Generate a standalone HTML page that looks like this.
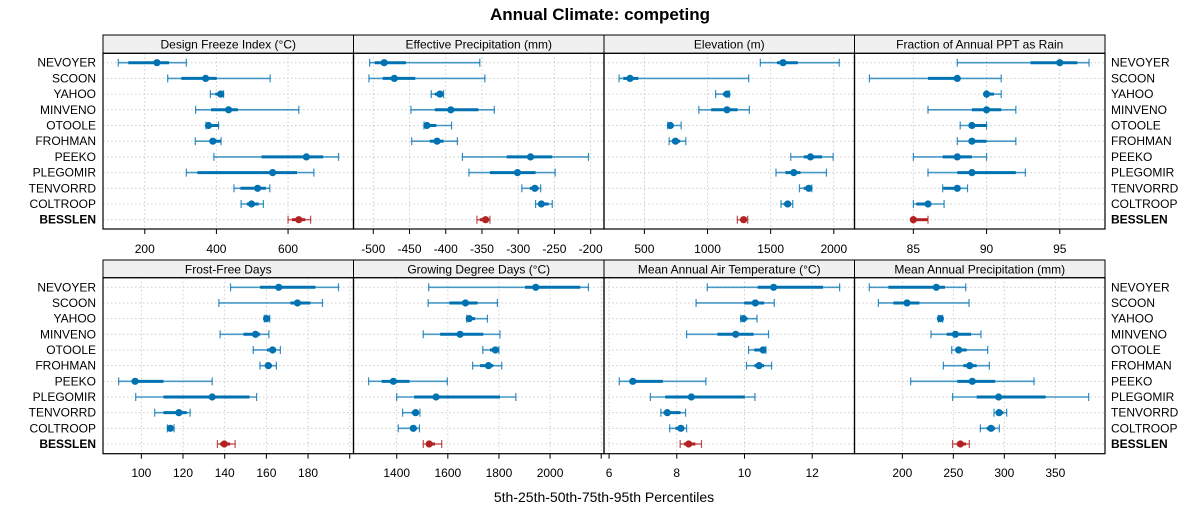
<!DOCTYPE html>
<html><head><meta charset="utf-8"><style>
html,body{margin:0;padding:0;background:#fff;}
svg{display:block;font-family:"Liberation Sans",sans-serif;}
</style></head><body>
<svg id="chart" width="1200" height="525" viewBox="0 0 1200 525" xmlns="http://www.w3.org/2000/svg">
<text x="600" y="20" text-anchor="middle" font-size="17" font-weight="bold">Annual Climate: competing</text>
<text x="604" y="502" text-anchor="middle" font-size="14">5th-25th-50th-75th-95th Percentiles</text>
<g id="plots"></g>
</svg>
<script>
const sites = ["NEVOYER","SCOON","YAHOO","MINVENO","OTOOLE","FROHMAN","PEEKO","PLEGOMIR","TENVORRD","COLTROOP","BESSLEN"];
const panelTitles = ["Design Freeze Index (°C)","Effective Precipitation (mm)","Elevation (m)","Fraction of Annual PPT as Rain","Frost-Free Days","Growing Degree Days (°C)","Mean Annual Air Temperature (°C)","Mean Annual Precipitation (mm)"];
// percentiles per site: [p5, p25, p50, p75, p95]
const freezeIndex = [[126,154,234,268,316],[264,302,370,401,550],[383,397,412,420,420],[342,385,434,460,630],[371,371,378,406,406],[341,383,390,412,413],[393,526,651,698,741],[316,347,557,625,672],[449,467,515,538,549],[469,485,498,518,531],[600,611,630,648,663]];
const effPrecip = [[-505,-498,-485,-455,-353],[-506,-487,-471,-442,-346],[-420,-415,-408,-403,-403],[-448,-415,-393,-355,-333],[-430,-429,-426,-413,-392],[-447,-422,-412,-403,-384],[-377,-316,-283,-253,-203],[-368,-339,-301,-276,-249],[-295,-284,-277,-272,-269],[-276,-272,-268,-258,-253],[-357,-353,-345,-341,-339]];
const elevation = [[1418,1550,1598,1715,2043],[299,333,386,452,1326],[1064,1122,1154,1172,1172],[931,1029,1154,1238,1331],[685,690,706,730,791],[696,717,746,783,828],[1659,1762,1815,1908,1995],[1542,1617,1683,1736,1942],[1728,1762,1802,1815,1826],[1582,1603,1635,1656,1675],[1236,1259,1286,1304,1318]];
const fracRain = [[88,93,95,96.2,97],[82,86,88,88,91],[90,90,90,90.5,91],[86,89,90,91,92],[88.2,88.9,89,90,90],[88,88.9,89,90,92],[85,87,88,89,90],[86,88,89,92,92.65],[87,87.05,88,88,88.7],[85,85.2,86,86,87.1],[85,85,85,86,86]];
const frostFree = [[142.8,157,165.9,183.5,194.6],[137.2,171.5,174.9,181.1,186.9],[159,159.6,160.1,161,161.6],[137.8,149,154.8,157,161.2],[153.7,160.3,163,164.3,166.7],[156.9,159.5,160.9,162.7,164.8],[89.1,95.4,97,110.6,134],[97.3,110.6,134,151.9,155.3],[106.4,110.6,118,121.8,123.4],[112.5,113,113.9,115.1,115.7],[136.5,137.8,139.8,142.6,145]];
const gdd = [[1525,1902,1944,2118,2150],[1523,1606,1669,1716,1794],[1674,1674,1684,1707,1755],[1504,1570,1648,1739,1804],[1737,1765,1786,1798,1800],[1697,1726,1759,1778,1811],[1290,1341,1387,1450,1598],[1400,1468,1554,1804,1866],[1423,1459,1474,1485,1491],[1406,1452,1465,1478,1489],[1504,1517,1527,1550,1576]];
const maat = [[8.9,10.39,10.86,12.32,12.81],[8.57,9.99,10.32,10.58,10.88],[9.89,9.91,9.97,10.09,10.37],[8.29,9.2,9.74,10.27,10.71],[10.12,10.29,10.55,10.58,10.63],[10.06,10.29,10.43,10.58,10.8],[6.3,6.62,6.7,7.59,8.86],[7.22,7.66,8.43,10.01,10.31],[7.53,7.61,7.72,8.11,8.26],[7.79,7.96,8.12,8.21,8.29],[8.1,8.21,8.35,8.55,8.73]];
const map = [[167.6,186.3,233.3,241.8,262.1],[176.5,191.2,204.6,216.7,265.4],[235.3,236,237.3,238.2,239.5],[228.1,243.5,252,267.3,277.1],[248.4,253.3,255.2,263,283.7],[240.2,259.8,266,272.9,285.3],[208.2,253.9,268.6,290.9,329.1],[249.3,272.9,294.4,340.5,382.7],[289.9,292.5,294.8,299,302.3],[276.5,282.7,286.9,290.9,295.1],[249.3,253.3,256.9,262.4,265.7]];
const ticksFreeze = [200,400,600];
const ticksEff = [-500,-450,-400,-350,-300,-250,-200];
const ticksElev = [500,1000,1500,2000];
const ticksFrac = [85,90,95];
const ticksFrost = [100,120,140,160,180,200];
const ticksGdd = [1400,1600,1800,2000,2200];
const ticksMaat = [6,8,10,12];
const ticksMap = [200,250,300,350];
const hiddenLabels = [200,2200];

const panelData = [freezeIndex,effPrecip,elevation,fracRain,frostFree,gdd,maat,map];
const panelTicks = [ticksFreeze,ticksEff,ticksElev,ticksFrac,ticksFrost,ticksGdd,ticksMaat,ticksMap];
const domains = [[83.4,782.7],[-527.3,-181.6],[180,2164],[80.98,98.09],[81.6,201.8],[1231,2211],[5.85,13.25],[153.1,398.7]];
const hideIdx = [-1,-1,-1,-1,5,4,-1,-1];

const NS="http://www.w3.org/2000/svg";
const root=document.getElementById('plots');
function mk(tag,attrs,parent){const e=document.createElementNS(NS,tag);for(const k in attrs)e.setAttribute(k,attrs[k]);(parent||root).appendChild(e);return e;}
const colX=[103,353.5,604,854.5,1105];
const rows=[{stripTop:35,top:53.3,bottom:229,y0:62.7,dy:15.7,tickY:253},{stripTop:260,top:277.7,bottom:453.7,y0:287.3,dy:15.67,tickY:477}];

for(let p=0;p<8;p++){
  const r=rows[Math.floor(p/4)], c=p%4;
  const x0=colX[c], x1=colX[c+1];
  const [d0,d1]=domains[p];
  const sx=v=>x0+(v-d0)/(d1-d0)*(x1-x0);
  const sy=i=>r.y0+i*r.dy;
  const g=mk('g',{});
  
  
  // strip
  const st=mk('rect',{x:x0,y:r.stripTop,width:x1-x0,height:r.top-r.stripTop,fill:'#f0f0f0',stroke:'#000','stroke-width':1},g);
  
  
  const stt=mk('text',{x:(x0+x1)/2,y:r.stripTop+13.5,'text-anchor':'middle','font-size':12},g);
  stt.textContent=panelTitles[p];
  
  
  // grid
  panelTicks[p].forEach(t=>{const x=sx(t); if(x>x0+1&&x<x1-1) mk('line',{x1:x,x2:x,y1:r.top,y2:r.bottom,stroke:'#ccc','stroke-dasharray':'1.5,2.5','stroke-width':1},g);});
  sites.forEach((s,i)=>mk('line',{x1:x0,x2:x1,y1:sy(i),y2:sy(i),stroke:'#ccc','stroke-dasharray':'1.5,2.5','stroke-width':1},g));
  // ticks
  panelTicks[p].forEach((t,k)=>{const x=sx(t);
    mk('line',{x1:x,x2:x,y1:r.bottom,y2:r.bottom+5,stroke:'#000','stroke-width':1},g);
    if(k!==hideIdx[p]){const tl=mk('text',{x:x,y:r.tickY,'text-anchor':'middle','font-size':12},g);tl.textContent=t;
      
      }
  });
  // marks
  panelData[p].forEach((q,i)=>{
    const col=i===10?'#b22222':'#0072b2', y=sy(i);
    const m=mk('g',{},g);
    
    
    mk('line',{x1:sx(q[0]),x2:sx(q[4]),y1:y,y2:y,stroke:col,'stroke-width':1.6,'stroke-opacity':0.7},m);
    mk('line',{x1:sx(q[0]),x2:sx(q[0]),y1:y-4,y2:y+4,stroke:col,'stroke-width':1.2,'stroke-opacity':0.8},m);
    mk('line',{x1:sx(q[4]),x2:sx(q[4]),y1:y-4,y2:y+4,stroke:col,'stroke-width':1.2,'stroke-opacity':0.8},m);
    mk('line',{x1:sx(q[1]),x2:sx(q[3]),y1:y,y2:y,stroke:col,'stroke-width':3},m);
    mk('circle',{cx:sx(q[2]),cy:y,r:3.6,fill:col},m);
  });
  const fr=mk('rect',{x:x0,y:r.top,width:x1-x0,height:r.bottom-r.top,fill:'none',stroke:'#000','stroke-width':1.2},g);
  
  
  // site labels
  if(c===0||c===3){
    sites.forEach((s,i)=>{const t=mk('text',{x:c===0?96:1111,y:sy(i)+4,'text-anchor':c===0?'end':'start','font-size':12,'font-weight':i===10?'bold':'normal'},g);
      t.textContent=s;
      
      });
  }
}
</script>
</body></html>
